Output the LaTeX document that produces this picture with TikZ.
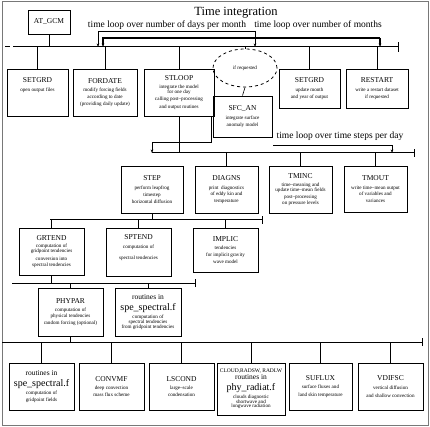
\documentclass[tikz,border=0pt]{standalone}
\usepackage{fontspec}
\setmainfont{Liberation Serif}
\usepackage{tikz}
\usetikzlibrary{shapes.geometric, arrows.meta, positioning}
\definecolor{frameGray}{RGB}{120,120,120}
\newcommand{\boxtitle}[1]{{\fontsize{7.5}{9}\selectfont #1}}
\newcommand{\bigfile}[1]{{\fontsize{10}{11}\selectfont #1}}

\begin{document}
\begin{tikzpicture}[x=1pt,y=-1pt,
    box/.style={draw,line width=0.9pt,align=center,inner sep=1pt,
      font=\fontsize{5.1}{6.8}\selectfont},
    bus/.style={line width=1pt},
    conn/.style={line width=0.6pt},
    looparrow/.style={line width=0.6pt,-{Stealth[length=3.5pt,width=2.6pt]}},
    looptext/.style={font=\fontsize{9.5}{11}\selectfont}]
          \useasboundingbox (0,0) rectangle (430,427);
          \draw[frameGray,line width=1pt] (2,2) rectangle (428,425);
          % Title and loop labels
          \node[font=\fontsize{12.5}{14}\selectfont] (title) at (236,13) {Time integration};
          \node[looptext] (dayslbl) at (167,25) {time loop over number of days per month};
          \node[looptext] (monthslbl) at (318,25) {time loop over number of months};
          \node[box,minimum width=42,minimum height=24] (atgcm) at (49,22) {\boxtitle{AT\_GCM}};
          % Main bus
          \coordinate (busAl) at (13,47);
          \coordinate (busAr) at (398,47);
          \coordinate (busAdash) at (5,47);
          \draw[bus] (busAdash) -- ++(5,0);
          \draw[bus] (busAl) -- (busAr);
          \draw[bus] ([yshift=-5pt]busAr) -- ([yshift=5pt]busAr);
          \draw[conn] (atgcm.south) -- (atgcm.south |- busAl);
          % Day and month loops
          \coordinate (dayL) at (98,31);
          \coordinate (dayR) at (255,31);
          \coordinate (monL) at (103,38);
          \coordinate (monR) at (380,38);
          \draw[looparrow] (dayR) -- (dayL) -- (dayL |- busAl);
          \draw[looparrow] (dayR) -- (dayR |- busAl);
          \draw[looparrow,line width=1.1pt] (monR) -- (monL) -- (monL |- busAl);
          \draw[looparrow,line width=1.1pt] (monR) -- (monR |- busAl);
          % Row 1
          \node[box,minimum width=61,minimum height=47] (setgrdA) at (37.5,92.5)
            {\boxtitle{SETGRD}\\[3pt] open output files\\[9pt]};
          \node[box,minimum width=64,minimum height=47] (fordate) at (105,92.5)
            {\boxtitle{FORDATE}\\[1pt] modify forcing fields\\ according to date\\ (providing daily update)};
          \node[box,minimum width=70,minimum height=47] (stloop) at (179,92.5)
            {\boxtitle{STLOOP}\\[1pt] integrate the model\\[-2pt] for one day\\ calling post--processing\\[1pt] and output routines};
          \node[draw,dashed,ellipse,line width=0.8pt,minimum width=64,minimum height=38,
            font=\fontsize{5.1}{6}\selectfont] (ifreq) at (245,68) {if requested};
          \node[box,minimum width=59,minimum height=41] (sfcan) at (242.5,116.5)
            {\boxtitle{SFC\_AN}\\[2pt] integrate surface\\ anomaly model};
          \node[box,minimum width=61,minimum height=39] (setgrdB) at (309.5,88.5)
            {\boxtitle{SETGRD}\\[2pt] update month\\ and year of output};
          \node[box,minimum width=62,minimum height=39] (restart) at (377,88.5)
            {\boxtitle{RESTART}\\[2pt] write a restart dataset\\ if requested};
          \foreach \n in {setgrdA,fordate,stloop,ifreq,setgrdB,restart}
            \draw[conn] (\n.north) -- (\n.north |- busAl);
          \draw[conn] (ifreq.south) -- (sfcan.north);
          % Time step loop
          \node[looptext] (stepslbl) at (340,136) {time loop over time steps per day};
          \coordinate (busBl) at (152,153);
          \coordinate (busBr) at (414,153);
          \coordinate (stepTop) at (211,117);
          \coordinate (stepM) at (211,142);
          \coordinate (stepL) at (152,142);
          \coordinate (stepR1) at (273,145);
          \coordinate (stepR2) at (392,145);
          \draw[looparrow] (stepTop) -- (stepM) -- (stepL) -- (stepL |- busBl);
          \draw[looparrow] (stepR1) -- (stepR2) -- (stepR2 |- busBl);
          \draw[bus] (busBl) -- (busBr);
          \draw[bus] ([yshift=-4pt]busBr) -- ([yshift=4pt]busBr);
          \draw[conn] (stloop.south) -- (stloop.south |- busBl);
          % Row 2
          \node[box,minimum width=62,minimum height=47] (step) at (152,189.5)
            {\boxtitle{STEP}\\[2pt] perform leapfrog\\ timestep\\ horizontal diffusion};
          \node[box,minimum width=63,minimum height=47] (diagns) at (226.5,189.5)
            {\boxtitle{DIAGNS}\\[2pt] print\enspace diagnostics\\ of eddy kin and\\ temperature};
          \node[box,minimum width=63,minimum height=47] (tminc) at (300.5,189.5)
            {\boxtitle{TMINC}\\[1pt] time--meaning and\\[-1pt] update time--mean fields\\ post--processing\\[-1pt] on pressure levels};
          \node[box,minimum width=63,minimum height=46] (tmout) at (375.5,189)
            {\boxtitle{TMOUT}\\[2pt] write time--mean output\\ of variables and\\ variances};
          \foreach \n in {diagns,tminc,tmout}
            \draw[conn] (\n.north) -- (\n.north |- busBl);
          % Row 3
          \coordinate (busCl) at (50,220);
          \coordinate (busCr) at (262,220);
          \draw[bus] (busCl) -- (busCr);
          \draw[bus] ([yshift=-4pt]busCr) -- ([yshift=4pt]busCr);
          \draw[conn] (step.south) -- (step.south |- busCl);
          \node[box,minimum width=65,minimum height=47] (grtend) at (51.5,251.5)
            {\boxtitle{GRTEND}\\[0pt] computation of\\[-1.5pt] gridpoint tendencies\\[1pt] conversion into\\[-1.5pt] spectral tendencies};
          \node[box,minimum width=65,minimum height=48] (sptend) at (138.5,252)
            {\boxtitle{SPTEND}\\[2pt] computation of\\[4pt] spectral tendencies\\[3pt]};
          \node[box,minimum width=65,minimum height=44] (implic) at (225.5,250)
            {\boxtitle{IMPLIC}\\[1pt] tendencies\\ for implicit gravity\\ wave model};
          \draw[conn] (grtend.north) -- (grtend.north |- busCl);
          \foreach \n in {sptend,implic}
            \draw[conn] (\n.north) -- (\n.north |- busCl);
          % Row 4
          \coordinate (busDl) at (12,283);
          \coordinate (busDr) at (195,283);
          \draw[bus] (busDl) -- (busDr);
          \draw[bus] ([yshift=-4pt]busDr) -- ([yshift=4pt]busDr);
          \draw[conn] (grtend.south) -- (grtend.south |- busDl);
          \node[box,minimum width=65,minimum height=48] (phypar) at (70.5,312)
            {\boxtitle{PHYPAR}\\[1pt] computation of\\ physical tendencies\\ random forcing (optional)};
          \node[box,minimum width=66,minimum height=48] (spspecA) at (148,312)
            {{\fontsize{7.5}{8}\selectfont routines in}\\[3pt] \bigfile{spe\_spectral.f}\\[1pt] computation of\\[-2pt] spectral tendencies\\[-2pt] from gridpoint tendencies};
          \foreach \n in {phypar,spspecA}
            \draw[conn] (\n.north) -- (\n.north |- busDl);
          % Row 5
          \coordinate (busEl) at (2,342);
          \coordinate (busEr) at (422,342);
          \draw[bus] (busEl) -- (busEr);
          \draw[bus] ([yshift=-4pt]busEr) -- ([yshift=4pt]busEr);
          \draw[conn] (phypar.south) -- (phypar.south |- busEl);
          \node[box,minimum width=65,minimum height=47] (spspecB) at (41.5,386.5)
            {{\fontsize{7.5}{8}\selectfont routines in}\\[3pt] \bigfile{spe\_spectral.f}\\[2pt] computation of\\ gridpoint fields};
          \node[box,minimum width=65,minimum height=47] (convmf) at (111.5,386.5)
            {\boxtitle{CONVMF}\\[2pt] deep convection\\ mass flux scheme};
          \node[box,minimum width=65,minimum height=47] (lscond) at (181.5,386.5)
            {\boxtitle{LSCOND}\\[2pt] large--scale\\ condensation};
          \node[box,minimum width=68,minimum height=52] (radiat) at (251,389)
            {{\fontsize{5.5}{6}\selectfont CLOUD,RADSW, RADLW}\\[0pt] {\fontsize{7.5}{8}\selectfont routines in}\\[3pt] \bigfile{phy\_radiat.f}\\[1pt] clouds diagnostic\\[-2pt] shortwave and\\[-2pt] longwave radiation};
          \node[box,minimum width=63,minimum height=47] (suflux) at (320.5,386.5)
            {\boxtitle{SUFLUX}\\[2pt] surface fluxes and\\[1pt] land skin temperature};
          \node[box,minimum width=65,minimum height=47] (vdifsc) at (390.5,386.5)
            {\boxtitle{VDIFSC}\\[2pt] vertical diffusion\\[1pt] and shallow convection};
          \foreach \n in {spspecB,convmf,lscond,radiat,suflux,vdifsc}
            \draw[conn] (\n.north) -- (\n.north |- busEl);
        \end{tikzpicture}
\end{document}
